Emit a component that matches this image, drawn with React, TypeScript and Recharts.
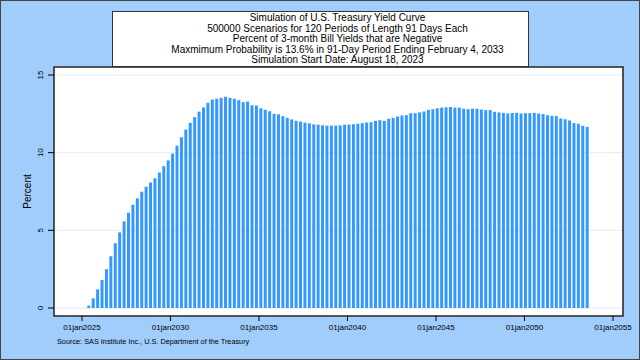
import { BarChart, Bar, XAxis, YAxis, CartesianGrid, ReferenceArea } from 'recharts';

// simulation periods: 91-day windows starting Aug 18, 2023 (bar sits at period end)
const START_DATE = Date.UTC(2023, 7, 18);
const PERIOD_DAYS = 91;
const DAY_MS = 86400000;

// percent of 3-month bill yields that are negative, one value per period (120)
const negativeShare = [
  0, 0, 0, 0, 0, 0, 0.15, 0.62, 1.2, 1.8,
  2.5, 3.33, 4.17, 4.87, 5.58, 6.14, 6.65, 7.06, 7.49, 7.81,
  8.08, 8.35, 8.72, 9.13, 9.5, 9.94, 10.45, 10.99, 11.49, 11.92,
  12.29, 12.64, 12.91, 13.21, 13.42, 13.47, 13.53, 13.6, 13.53, 13.47,
  13.38, 13.25, 13.29, 13.05, 13.04, 12.86, 12.76, 12.67, 12.5, 12.47,
  12.35, 12.24, 12.14, 12.05, 12.0, 11.93, 11.89, 11.82, 11.8, 11.76,
  11.74, 11.74, 11.74, 11.76, 11.8, 11.81, 11.83, 11.86, 11.9, 11.94,
  11.96, 12.05, 12.09, 12.05, 12.18, 12.24, 12.33, 12.39, 12.41, 12.54,
  12.54, 12.59, 12.65, 12.76, 12.8, 12.86, 12.9, 12.92, 12.94, 12.9,
  12.9, 12.83, 12.8, 12.83, 12.83, 12.78, 12.74, 12.74, 12.63, 12.59,
  12.56, 12.52, 12.56, 12.56, 12.52, 12.54, 12.54, 12.56, 12.52, 12.48,
  12.41, 12.37, 12.35, 12.2, 12.15, 12.07, 11.9, 11.86, 11.73, 11.66,
];

const yearTicks = [2025, 2030, 2035, 2040, 2045, 2050, 2055];
const percentTicks = [0, 5, 10, 15];

const titleLines = [
  'Simulation of U.S. Treasury Yield Curve',
  '500000 Scenarios for 120 Periods of Length 91 Days Each',
  'Percent of 3-month Bill Yields that are Negative',
  'Maxmimum Probability is 13.6% in 91-Day Period Ending February 4, 2033',
  'Simulation Start Date: August 18, 2023',
];
const sourceNote = 'Source: SAS Institute Inc., U.S. Department of the Treasury';

const chartData = negativeShare.map((pct, i) => ({
  date: START_DATE + (i + 1) * PERIOD_DAYS * DAY_MS,
  pct,
}));

const X_DOMAIN = [Date.UTC(2023, 5, 4), Date.UTC(2055, 6, 26)];
const Y_DOMAIN = [-0.515, 15.515];
const FONT = '"Liberation Sans", Arial, sans-serif';

function PercentTick({ x, y, payload }: any) {
  return (
    <text
      x={x - 3}
      y={y}
      transform={`rotate(-90, ${x - 3}, ${y})`}
      textAnchor="middle"
      fontSize={8}
      fontFamily={FONT}
      fill="#000"
    >
      {payload.value}
    </text>
  );
}

export default function App() {
  return (
    <div
      style={{
        position: 'absolute',
        left: 0,
        top: 0,
        width: 640,
        height: 360,
        boxSizing: 'border-box',
        border: '1px solid #444',
        background: '#a0cdfc',
        fontFamily: FONT,
        overflow: 'hidden',
      }}
    >
      <div style={{ position: 'absolute', left: -1, top: -1 }}>
        <BarChart
          width={640}
          height={360}
          data={chartData}
          margin={{ top: 67, right: 17, bottom: 0, left: 0 }}
        >
          <CartesianGrid vertical={false} fill="#fff" fillOpacity={1} stroke="#e4ebf2" />
          <XAxis
            dataKey="date"
            type="number"
            domain={X_DOMAIN}
            allowDataOverflow
            ticks={yearTicks.map((yr) => Date.UTC(yr, 0, 1))}
            tickFormatter={(v: number) => `01jan${new Date(v).getUTCFullYear()}`}
            interval={0}
            height={44}
            tickSize={5}
            tickMargin={3}
            axisLine={false}
            tickLine={{ stroke: '#000' }}
            tick={{ fontSize: 8, fontFamily: '"Liberation Sans Narrow", ' + FONT, fill: '#000' }}
          />
          <YAxis
            type="number"
            domain={Y_DOMAIN}
            allowDataOverflow
            ticks={percentTicks}
            width={54}
            tickSize={6}
            axisLine={false}
            tickLine={{ stroke: '#000' }}
            tick={<PercentTick />}
            label={{
              value: 'Percent',
              angle: -90,
              position: 'center',
              fontSize: 10,
              fontFamily: FONT,
              fill: '#000',
            }}
          />
          <Bar dataKey="pct" fill="#3399ff" barSize={3} isAnimationActive={false} />
          <ReferenceArea
            x1={X_DOMAIN[0]}
            x2={X_DOMAIN[1]}
            y1={Y_DOMAIN[0]}
            y2={Y_DOMAIN[1]}
            fill="none"
            stroke="#222"
            strokeWidth={1.5}
          />
        </BarChart>
      </div>
      <div
        style={{
          position: 'absolute',
          left: 111,
          top: 10,
          width: 417,
          height: 56,
          boxSizing: 'border-box',
          background: '#fff',
          border: '1px solid #333',
          textAlign: 'center',
          fontSize: 10,
          lineHeight: '10.6px',
          paddingTop: 1,
          paddingLeft: 34,
          color: '#000',
          whiteSpace: 'nowrap',
        }}
      >
        {titleLines.map((line) => (
          <div key={line}>{line}</div>
        ))}
      </div>
      <div
        style={{
          position: 'absolute',
          left: 56,
          top: 336,
          fontSize: 7.3,
          color: '#000',
          whiteSpace: 'nowrap',
        }}
      >
        {sourceNote}
      </div>
    </div>
  );
}
